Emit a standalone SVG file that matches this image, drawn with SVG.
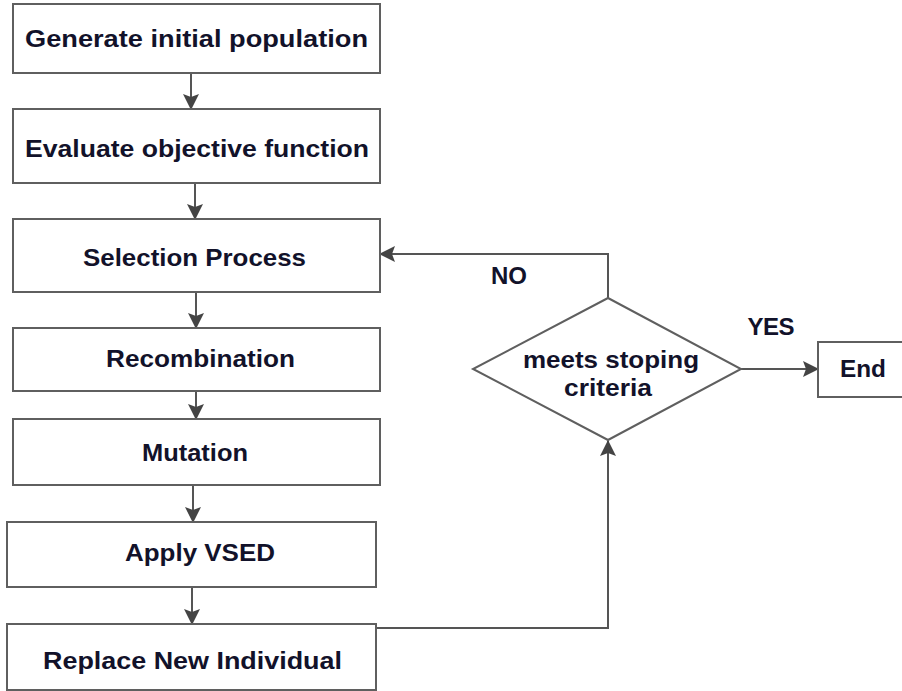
<svg xmlns="http://www.w3.org/2000/svg" width="902" height="691" viewBox="0 0 902 691">
  <defs>
    <style>
      .box { fill: #ffffff; stroke: #5f5f5f; stroke-width: 2; }
      .lbl { font-family: "Liberation Sans", Arial, sans-serif; font-weight: bold; font-size: 24px; fill: #12122a; text-anchor: middle; }
      .edge { fill: none; stroke: #555555; stroke-width: 2; }
    </style>
    <marker id="arrow" markerUnits="userSpaceOnUse" markerWidth="16" markerHeight="16" viewBox="0 0 16 16" refX="15" refY="8" orient="auto">
      <path d="M0,0 L16,8 L0,16 L3,8 Z" fill="#444444"/>
    </marker>
  </defs>
  <rect width="902" height="691" fill="#ffffff"/>

  <g id="connectors">
    <line class="edge" x1="191" y1="73" x2="191" y2="109" marker-end="url(#arrow)"/>
    <line class="edge" x1="195" y1="183" x2="195" y2="219" marker-end="url(#arrow)"/>
    <line class="edge" x1="196" y1="292" x2="196" y2="328" marker-end="url(#arrow)"/>
    <line class="edge" x1="196" y1="391" x2="196" y2="419" marker-end="url(#arrow)"/>
    <line class="edge" x1="193" y1="485" x2="193" y2="522" marker-end="url(#arrow)"/>
    <line class="edge" x1="192" y1="587" x2="192" y2="624" marker-end="url(#arrow)"/>
    <polyline class="edge" points="376,628 608,628 608,441" marker-end="url(#arrow)"/>
    <polyline class="edge" points="608,298 608,254 380,254" marker-end="url(#arrow)"/>
    <line class="edge" x1="741" y1="369" x2="818" y2="369" marker-end="url(#arrow)"/>
    <text class="lbl" x="509" y="284" textLength="36" lengthAdjust="spacingAndGlyphs">NO</text>
    <text class="lbl" x="771" y="335" textLength="47" lengthAdjust="spacing">YES</text>
  </g>

  <g id="generate">
    <rect class="box" x="13" y="4" width="367" height="69"/>
    <text class="lbl" x="196.5" y="47" textLength="343" lengthAdjust="spacingAndGlyphs">Generate initial population</text>
  </g>
  <g id="evaluate">
    <rect class="box" x="13" y="109" width="367" height="74"/>
    <text class="lbl" x="197" y="157" textLength="344" lengthAdjust="spacingAndGlyphs">Evaluate objective function</text>
  </g>
  <g id="selection">
    <rect class="box" x="13" y="219" width="367" height="73"/>
    <text class="lbl" x="194.5" y="266" textLength="223" lengthAdjust="spacingAndGlyphs">Selection Process</text>
  </g>
  <g id="recombination">
    <rect class="box" x="13" y="328" width="367" height="63"/>
    <text class="lbl" x="200.5" y="367" textLength="189" lengthAdjust="spacingAndGlyphs">Recombination</text>
  </g>
  <g id="mutation">
    <rect class="box" x="13" y="419" width="367" height="66"/>
    <text class="lbl" x="195" y="461" textLength="106" lengthAdjust="spacingAndGlyphs">Mutation</text>
  </g>
  <g id="apply-vsed">
    <rect class="box" x="7" y="522" width="369" height="65"/>
    <text class="lbl" x="200" y="561" textLength="150" lengthAdjust="spacingAndGlyphs">Apply VSED</text>
  </g>
  <g id="replace">
    <rect class="box" x="7" y="624" width="369" height="66"/>
    <text class="lbl" x="192.5" y="669" textLength="299" lengthAdjust="spacingAndGlyphs">Replace New Individual</text>
  </g>
  <g id="stop-check">
    <polygon class="box" points="608,298 741,369 608,440 473,369"/>
    <text class="lbl" x="611" y="368" textLength="176" lengthAdjust="spacingAndGlyphs">meets stoping</text>
    <text class="lbl" x="608" y="396" textLength="88" lengthAdjust="spacingAndGlyphs">criteria</text>
  </g>
  <g id="end">
    <rect class="box" x="818" y="342" width="100" height="55"/>
    <text class="lbl" x="863" y="377" textLength="46" lengthAdjust="spacingAndGlyphs">End</text>
  </g>
</svg>
